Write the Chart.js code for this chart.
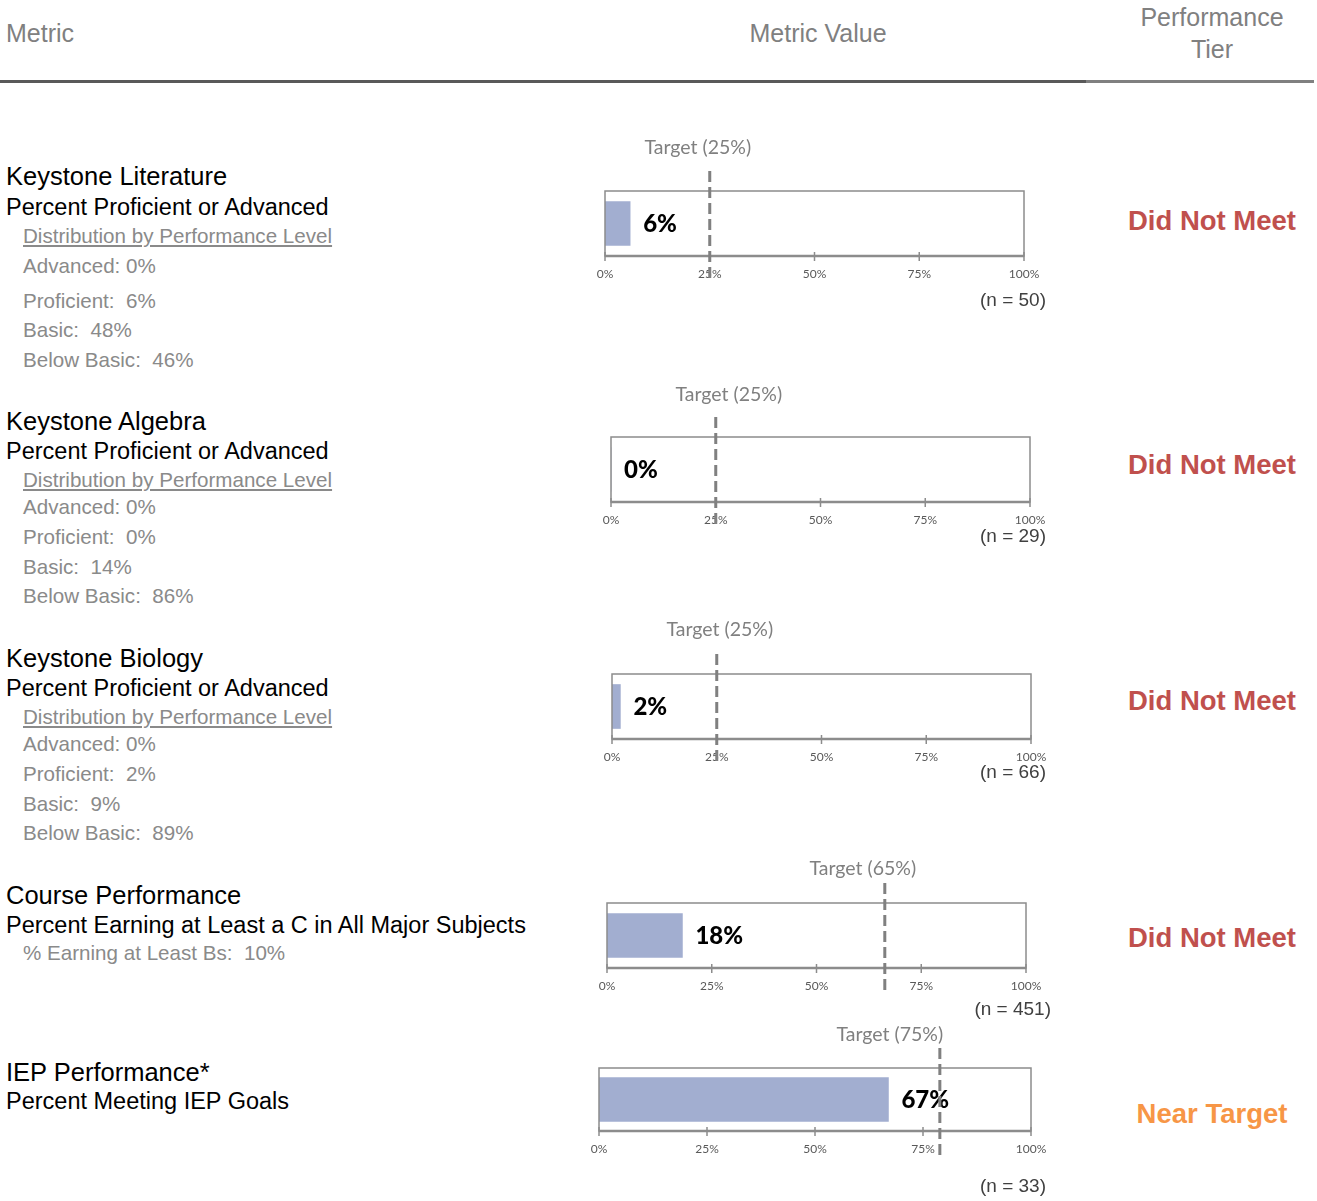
<!DOCTYPE html>
<html>
<head>
<meta charset="utf-8">
<script src="https://cdn.jsdelivr.net/npm/chart.js@4"></script>
<style>
  body { margin: 0; background: #fff; }
  #page { position: relative; width: 1317px; height: 1201px; overflow: hidden; font-family: "Liberation Sans", Arial, sans-serif; }
  .txt { position: absolute; white-space: pre; line-height: 30px; height: 30px; }
  .hdr { color: #808080; font-size: 25px; }
  .ttl { color: #000; font-size: 25.5px; }
  .blk { color: #000; font-size: 23.5px; }
  .sub { color: #8a8a8a; font-size: 20.6px; }
  .tier { font-size: 27.5px; font-weight: bold; width: 300px; text-align: center; }
  canvas { position: absolute; }
</style>
</head>
<body>
<div id="page"></div>
<script>
// metric data
const metricTitles = ['Keystone Literature', 'Keystone Algebra', 'Keystone Biology', 'Course Performance', 'IEP Performance*'];
const metricSubtitles = ['Percent Proficient or Advanced', 'Percent Proficient or Advanced', 'Percent Proficient or Advanced',
  'Percent Earning at Least a C in All Major Subjects', 'Percent Meeting IEP Goals'];
const detailLines = [
  ['Distribution by Performance Level', 'Advanced: 0%', 'Proficient:  6%', 'Basic:  48%', 'Below Basic:  46%'],
  ['Distribution by Performance Level', 'Advanced: 0%', 'Proficient:  0%', 'Basic:  14%', 'Below Basic:  86%'],
  ['Distribution by Performance Level', 'Advanced: 0%', 'Proficient:  2%', 'Basic:  9%', 'Below Basic:  89%'],
  ['% Earning at Least Bs:  10%'],
  []
];
const metricValues = [6, 0, 2, 18, 67];
const targetValues = [25, 25, 25, 65, 75];
// where the dashed target line sits in the picture
const targetMarks = [25, 25, 25, 66.3, 78.9];
const sampleSizes = [50, 29, 66, 451, 33];
const tiers = ['Did Not Meet', 'Did Not Meet', 'Did Not Meet', 'Did Not Meet', 'Near Target'];
const tickValues = [0, 25, 50, 75, 100];

const tierColors = { 'Did Not Meet': '#C0504D', 'Near Target': '#F79646' };

// layout (pixels)
const boxes = [
  { left: 605, right: 1024, top: 191, bottom: 256, tgtDx: -12, tgtDy: 43, nDx: 22, nDy: 45 },
  { left: 611, right: 1030, top: 437, bottom: 502, tgtDx: 13, tgtDy: 42, nDx: 16, nDy: 35 },
  { left: 612, right: 1031, top: 674, bottom: 739, tgtDx: 3, tgtDy: 44, nDx: 15, nDy: 34 },
  { left: 607, right: 1026, top: 903, bottom: 968, tgtDx: -22, tgtDy: 34, nDx: 25, nDy: 42 },
  { left: 599, right: 1031, top: 1068, bottom: 1131, tgtDx: -50, tgtDy: 33, nDx: 15, nDy: 56 }
];
const textRows = [
  [176, 207, 236, 266, 301, 330, 360],
  [421, 451, 480, 507, 537, 567, 596],
  [658, 688, 717, 744, 774, 804, 833],
  [895, 925, 953],
  [1072, 1101]
];
const tierRows = [221, 465, 701, 938, 1114];

const page = document.getElementById('page');
function addText(cls, text, x, yc, extra) {
  const d = document.createElement('div');
  d.className = 'txt ' + cls;
  d.textContent = text;
  d.style.left = x + 'px';
  d.style.top = (yc - 15) + 'px';
  if (extra) Object.assign(d.style, extra);
  page.appendChild(d);
  return d;
}

// header
addText('hdr', 'Metric', 6, 33);
addText('hdr', 'Metric Value', 668, 33, { width: '300px', textAlign: 'center' });
addText('hdr', 'Performance', 1062, 17, { width: '300px', textAlign: 'center' });
addText('hdr', 'Tier', 1062, 49, { width: '300px', textAlign: 'center' });
const rule1 = document.createElement('div');
Object.assign(rule1.style, { position: 'absolute', left: '0px', top: '80px', width: '1086px', height: '3px', background: '#595959' });
page.appendChild(rule1);
const rule2 = document.createElement('div');
Object.assign(rule2.style, { position: 'absolute', left: '1086px', top: '80px', width: '228px', height: '3px', background: '#808080' });
page.appendChild(rule2);

// left text + tiers
metricTitles.forEach((t, i) => {
  const ys = textRows[i];
  addText('ttl', t, 6, ys[0]);
  addText('blk', metricSubtitles[i], 6, ys[1]);
  detailLines[i].forEach((line, j) => {
    const extra = line.startsWith('Distribution') ? { textDecoration: 'underline' } : null;
    addText('sub', line, 23, ys[2 + j], extra);
  });
  addText('tier', tiers[i], 1062, tierRows[i], { color: tierColors[tiers[i]] });
});

// bullet-style bars
const calibri = 'Lato, "Open Sans", sans-serif';
const CANVAS_L = 540, CANVAS_R = 1080, PAD_T = 70, PAD_B = 70, AXIS_H = 30;

const bulletPlugin = {
  id: 'bullet',
  afterDraw(chart) {
    const i = chart.options.plugins.bullet.index;
    const b = boxes[i];
    const { ctx, chartArea: a } = chart;
    const x = chart.scales.x;
    ctx.save();
    // frame
    ctx.strokeStyle = '#8c8c8c';
    ctx.lineWidth = 1.5;
    ctx.strokeRect(a.left, a.top, a.right - a.left, a.bottom - a.top);
    ctx.lineWidth = 2.5;
    ctx.beginPath();
    ctx.moveTo(a.left, a.bottom);
    ctx.lineTo(a.right, a.bottom);
    ctx.stroke();
    // tick marks across the axis
    ctx.lineWidth = 1.5;
    tickValues.forEach(v => {
      const px = x.getPixelForValue(v);
      ctx.beginPath();
      ctx.moveTo(px, a.bottom - 4);
      ctx.lineTo(px, a.bottom + 5);
      ctx.stroke();
    });
    // value label
    const meta = chart.getDatasetMeta(0).data[0];
    ctx.fillStyle = '#000';
    ctx.font = '900 24px ' + calibri;
    ctx.textAlign = 'left';
    ctx.textBaseline = 'middle';
    ctx.fillText(metricValues[i] + '%', x.getPixelForValue(metricValues[i]) + 13, meta.y + 1);
    // target label
    const tx = x.getPixelForValue(targetMarks[i]);
    ctx.fillStyle = '#808080';
    ctx.font = '19.5px ' + calibri;
    ctx.textAlign = 'center';
    ctx.fillText('Target (' + targetValues[i] + '%)', tx + b.tgtDx, a.top - b.tgtDy);
    // n label
    ctx.fillStyle = '#404040';
    ctx.font = '19px "Liberation Sans", Arial, sans-serif';
    ctx.textAlign = 'right';
    ctx.fillText('(n = ' + sampleSizes[i] + ')', a.right + b.nDx, a.bottom + b.nDy);
    // dashed target line
    ctx.strokeStyle = '#808080';
    ctx.lineWidth = 3;
    ctx.setLineDash([11, 5]);
    ctx.beginPath();
    ctx.moveTo(tx, a.top - 20);
    ctx.lineTo(tx, a.bottom + 27);
    ctx.stroke();
    ctx.restore();
  }
};

boxes.forEach((b, i) => {
  const cv = document.createElement('canvas');
  const h = (b.bottom - b.top) + PAD_T + PAD_B;
  cv.width = CANVAS_R - CANVAS_L;
  cv.height = h;
  cv.style.left = CANVAS_L + 'px';
  cv.style.top = (b.top - PAD_T) + 'px';
  cv.style.width = cv.width + 'px';
  cv.style.height = h + 'px';
  page.appendChild(cv);

  new Chart(cv.getContext('2d'), {
    type: 'bar',
    data: {
      labels: [metricTitles[i]],
      datasets: [{
        data: [metricValues[i]],
        backgroundColor: '#A2AED0',
        borderWidth: 0,
        barThickness: 44
      }]
    },
    options: {
      indexAxis: 'y',
      responsive: false,
      animation: false,
      layout: {
        padding: { left: b.left - CANVAS_L, right: CANVAS_R - b.right, top: PAD_T, bottom: PAD_B - AXIS_H }
      },
      scales: {
        x: {
          min: 0,
          max: 100,
          afterFit: s => { s.height = AXIS_H; },
          afterBuildTicks: s => { s.ticks = tickValues.map(v => ({ value: v })); },
          grid: { display: false },
          border: { display: false },
          ticks: {
            padding: 3,
            color: '#595959',
            font: { family: calibri, size: 12 },
            callback: v => v + '%'
          }
        },
        y: { display: false }
      },
      plugins: {
        legend: { display: false },
        tooltip: { enabled: false },
        bullet: { index: i }
      }
    },
    plugins: [bulletPlugin]
  });
});
</script>
</body>
</html>
